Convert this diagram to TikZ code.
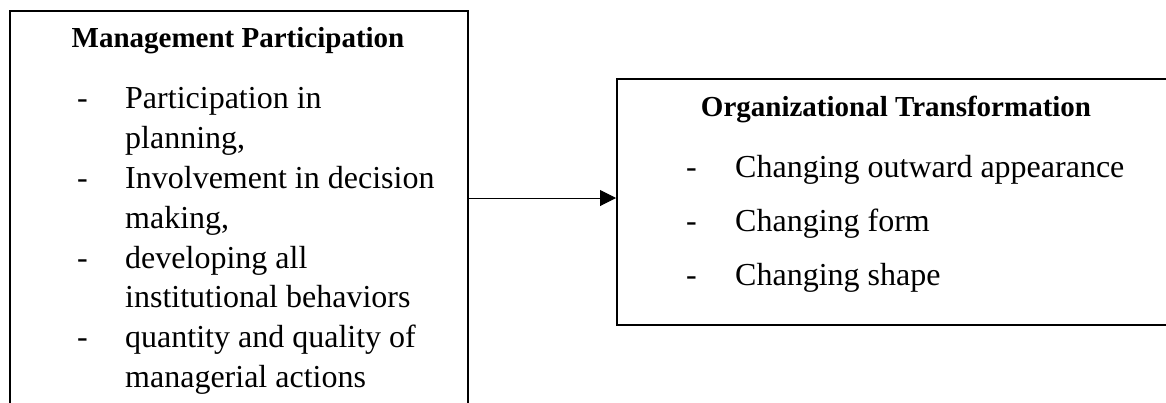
\documentclass[tikz,border=0pt]{standalone}
\usepackage{fontspec}
\setmainfont{Liberation Serif}
\usetikzlibrary{arrows.meta}
\begin{document}
\begin{tikzpicture}[x=1pt,y=-1pt,
  box/.style={draw,line width=2pt,inner sep=0pt,anchor=north west},
  ttl/.style={font=\fontsize{29}{34}\selectfont\bfseries,anchor=base,inner sep=0pt},
  itm/.style={font=\fontsize{32}{40}\selectfont,anchor=base west,inner sep=0pt},
  conn/.style={line width=1pt,-{Triangle[length=16pt,width=16pt]}}
]
\useasboundingbox (0,0) rectangle (1166,402);
\clip (0,0) rectangle (1166,402);
% boxes
\node[box,minimum width=458pt,minimum height=420pt] (mp) at (9,10) {};
\node[box,minimum width=562pt,minimum height=246pt] (ot) at (616,78) {};
% left box text
\node[ttl] (mpt) at (238,47) {Management Participation};
\node[itm] (d1) at (77,108) {-};
\node[itm] (l1) at (125,108) {Participation in};
\node[itm] (l2) at (125,148) {planning,};
\node[itm] (d2) at (77,188) {-};
\node[itm] (l3) at (125,188) {Involvement in decision};
\node[itm] (l4) at (125,228) {making,};
\node[itm] (d3) at (77,268) {-};
\node[itm] (l5) at (125,268) {developing all};
\node[itm] (l6) at (125,307) {institutional behaviors};
\node[itm] (d4) at (77,347) {-};
\node[itm] (l7) at (125,347) {quantity and quality of};
\node[itm] (l8) at (125,387) {managerial actions};
% right box text
\node[ttl] (ott) at (896,116) {Organizational Transformation};
\node[itm] (e1) at (686,177) {-};
\node[itm] (r1) at (735,177) {Changing outward appearance};
\node[itm] (e2) at (686,231) {-};
\node[itm] (r2) at (735,231) {Changing form};
\node[itm] (e3) at (686,285) {-};
\node[itm] (r3) at (735,285) {Changing shape};
% connector
\coordinate (as) at (mp.east |- 0,198);
\coordinate (ae) at (ot.west |- 0,198);
\draw[conn] (as) -- (ae);
\end{tikzpicture}
\end{document}
